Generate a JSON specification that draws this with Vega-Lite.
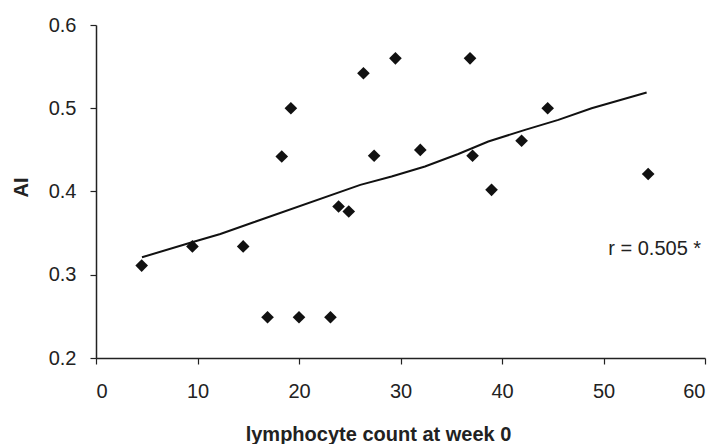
{
  "$schema": "https://vega.github.io/schema/vega-lite/v6.json",
  "width": 609,
  "height": 333,
  "autosize": {"type": "none"},
  "padding": {"left": 96, "top": 25, "right": 13, "bottom": 86},
  "background": "white",
  "config": {
    "view": {"stroke": null},
    "font": "Liberation Sans",
    "axis": {
      "grid": false,
      "domainColor": "#222",
      "domainWidth": 1.5,
      "tickColor": "#222",
      "tickWidth": 1.2,
      "tickSize": 6,
      "labelFont": "Liberation Sans",
      "labelFontSize": 20,
      "labelColor": "#222",
      "titleFont": "Liberation Sans",
      "titleFontSize": 20,
      "titleFontWeight": "bold",
      "titleColor": "#222"
    }
  },
  "datasets": {
    "points": [
      {"lymph": 4.5, "ai": 0.311},
      {"lymph": 9.5, "ai": 0.334},
      {"lymph": 14.5, "ai": 0.334},
      {"lymph": 16.9, "ai": 0.249},
      {"lymph": 20.0, "ai": 0.249},
      {"lymph": 23.1, "ai": 0.249},
      {"lymph": 19.2, "ai": 0.5},
      {"lymph": 18.3, "ai": 0.442},
      {"lymph": 23.9, "ai": 0.382},
      {"lymph": 24.9, "ai": 0.376},
      {"lymph": 26.35, "ai": 0.542},
      {"lymph": 29.5, "ai": 0.56},
      {"lymph": 36.85, "ai": 0.56},
      {"lymph": 27.4, "ai": 0.443},
      {"lymph": 31.95, "ai": 0.45},
      {"lymph": 37.1, "ai": 0.443},
      {"lymph": 38.97, "ai": 0.402},
      {"lymph": 41.93, "ai": 0.461},
      {"lymph": 44.5, "ai": 0.5},
      {"lymph": 54.4, "ai": 0.421}
    ],
    "trend": [
      {"lymph": 4.53, "ai": 0.321},
      {"lymph": 9.46, "ai": 0.339},
      {"lymph": 12.25, "ai": 0.349},
      {"lymph": 15.53, "ai": 0.363},
      {"lymph": 26.04, "ai": 0.408},
      {"lymph": 29.12, "ai": 0.418},
      {"lymph": 32.41, "ai": 0.43},
      {"lymph": 35.69, "ai": 0.445},
      {"lymph": 38.65, "ai": 0.46},
      {"lymph": 42.27, "ai": 0.474},
      {"lymph": 45.55, "ai": 0.486},
      {"lymph": 48.83, "ai": 0.5},
      {"lymph": 54.25, "ai": 0.519}
    ]
  },
  "layer": [
    {
      "data": {"name": "trend"},
      "mark": {"type": "line", "color": "#111", "strokeWidth": 2},
      "encoding": {
        "x": {
          "field": "lymph", "type": "quantitative",
          "scale": {"domain": [0, 60], "nice": false, "zero": false},
          "axis": {
            "values": [0, 10, 20, 30, 40, 50, 60],
            "labelPadding": 17,
            "title": "lymphocyte count at week 0",
            "titleX": 282,
            "titleY": 82,
            "titleBaseline": "alphabetic",
            "titleAnchor": "middle"
          }
        },
        "y": {
          "field": "ai", "type": "quantitative",
          "scale": {"domain": [0.2, 0.6], "nice": false, "zero": false},
          "axis": {
            "values": [0.2, 0.3, 0.4, 0.5, 0.6],
            "format": ".1f",
            "labelPadding": 14,
            "title": "AI",
            "titleX": -69,
            "titleY": 162,
            "titleAngle": -90,
            "titleBaseline": "alphabetic",
            "titleAnchor": "middle"
          }
        }
      }
    },
    {
      "data": {"name": "points"},
      "mark": {"type": "point", "shape": "diamond", "filled": true, "color": "#111", "size": 160, "opacity": 1},
      "encoding": {
        "x": {"field": "lymph", "type": "quantitative"},
        "y": {"field": "ai", "type": "quantitative"}
      }
    },
    {
      "data": {"values": [{"label": "r = 0.505 *"}]},
      "mark": {"type": "text", "align": "left", "baseline": "alphabetic", "fontSize": 20, "font": "Liberation Sans", "color": "#222"},
      "encoding": {
        "x": {"datum": 50.47, "type": "quantitative"},
        "y": {"datum": 0.3234, "type": "quantitative"},
        "text": {"field": "label"}
      }
    }
  ]
}
